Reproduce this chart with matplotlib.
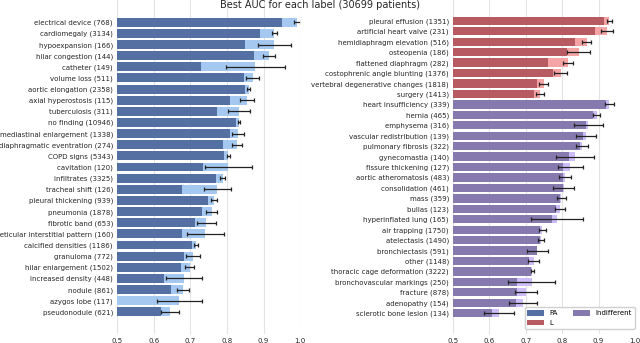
import matplotlib
matplotlib.use("Agg")
import matplotlib.pyplot as plt
from matplotlib.patches import Patch

# ---------------- data ----------------
left_labels = ["electrical device (768)", "cardiomegaly (3134)", "hypoexpansion (166)",
               "hilar congestion (144)", "catheter (149)", "volume loss (511)",
               "aortic elongation (2358)", "axial hyperostosis (115)", "tuberculosis (311)",
               "no finding (10946)", "mediastinal enlargement (1338)",
               "diaphragmatic eventration (274)", "COPD signs (5343)", "cavitation (120)",
               "infiltrates (3325)", "tracheal shift (126)", "pleural thickening (939)",
               "pneumonia (1878)", "fibrotic band (653)", "reticular interstitial pattern (160)",
               "calcified densities (1186)", "granuloma (772)", "hilar enlargement (1502)",
               "increased density (448)", "nodule (861)", "azygos lobe (117)",
               "pseudonodule (621)"]
left_view = [0.950, 0.889, 0.850, 0.873, 0.730, 0.847, 0.850, 0.807, 0.773,
             0.825, 0.809, 0.789, 0.793, 0.735, 0.770, 0.677, 0.747, 0.731, 0.714,
             0.677, 0.705, 0.684, 0.675, 0.627, 0.648, 0.500, 0.620]
left_best = [0.992, 0.929, 0.929, 0.915, 0.878, 0.870, 0.859, 0.856, 0.832,
             0.833, 0.830, 0.827, 0.804, 0.804, 0.789, 0.774, 0.765, 0.758, 0.744,
             0.741, 0.715, 0.707, 0.698, 0.683, 0.680, 0.670, 0.645]
left_err = [0.010, 0.007, 0.045, 0.017, 0.080, 0.017, 0.005, 0.019, 0.030,
            0.003, 0.017, 0.014, 0.005, 0.065, 0.007, 0.036, 0.009, 0.014, 0.027,
            0.050, 0.006, 0.020, 0.012, 0.049, 0.016, 0.062, 0.025]

right_labels = ["pleural effusion (1351)", "artificial heart valve (231)",
                "hemidiaphragm elevation (516)", "osteopenia (186)",
                "flattened diaphragm (282)", "costophrenic angle blunting (1376)",
                "vertebral degenerative changes (1818)", "surgery (1413)",
                "heart insufficiency (339)", "hernia (465)", "emphysema (316)",
                "vascular redistribution (139)", "pulmonary fibrosis (322)",
                "gynecomastia (140)", "fissure thickening (127)",
                "aortic atheromatosis (483)", "consolidation (461)", "mass (359)",
                "bullas (123)", "hyperinflated lung (165)", "air trapping (1750)",
                "atelectasis (1490)", "bronchiectasis (591)", "other (1148)",
                "thoracic cage deformation (3222)", "bronchovascular markings (250)",
                "fracture (878)", "adenopathy (154)", "sclerotic bone lesion (134)"]
right_group = ["L"] * 8 + ["Indifferent"] * 21
right_view = [0.915, 0.890, 0.835, 0.813, 0.760, 0.774, 0.732, 0.723,
              0.920, 0.884, 0.865, 0.856, 0.849, 0.818, 0.803, 0.801, 0.801, 0.794,
              0.783, 0.771, 0.740, 0.738, 0.730, 0.708, 0.715, 0.677, 0.675, 0.674, 0.607]
right_best = [0.930, 0.924, 0.867, 0.845, 0.817, 0.796, 0.749, 0.738,
              0.930, 0.895, 0.872, 0.865, 0.855, 0.835, 0.822, 0.808, 0.804, 0.798,
              0.794, 0.785, 0.745, 0.742, 0.732, 0.722, 0.718, 0.716, 0.700, 0.692, 0.627]
right_err = [0.008, 0.016, 0.012, 0.031, 0.014, 0.018, 0.012, 0.011,
             0.013, 0.009, 0.040, 0.027, 0.016, 0.053, 0.034, 0.017, 0.029, 0.013,
             0.014, 0.072, 0.010, 0.009, 0.030, 0.015, 0.005, 0.065, 0.030, 0.039, 0.041]

x_ticks = [0.5, 0.6, 0.7, 0.8, 0.9, 1.0]
title = "Best AUC for each label (30699 patients)"

# ---------------- style ----------------
dark = {"PA": "#5470a2", "L": "#b85a61", "Indifferent": "#8579ad"}
light = {"PA": "#a4c8f0", "L": "#f4a4a4", "Indifferent": "#cdbcf8"}
txt = "#262626"

fig = plt.figure(figsize=(6.4, 3.43), dpi=100)
ax1 = fig.add_axes([0.183, 0.026, 0.286, 0.974])
ax2 = fig.add_axes([0.708, 0.026, 0.284, 0.974])


def draw(ax, labels, view, best, err, groups):
    y = list(range(len(labels)))
    ax.set_axisbelow(True)
    ax.barh(y, best, height=0.8, color=[light[g] for g in groups], zorder=2)
    ax.barh(y, view, height=0.8, color=[dark[g] for g in groups], zorder=3)
    ax.errorbar(best, y, xerr=err, fmt="none", ecolor="#222222", elinewidth=0.9,
                capsize=1.6, capthick=0.9, zorder=4)
    ax.set_xlim(0.5, 1.0)
    ax.set_ylim(len(labels) + 1, -2)
    ax.set_yticks(y)
    ax.set_yticklabels(labels, fontsize=5, color=txt)
    ax.set_xticks(x_ticks)
    ax.set_xticklabels([f"{t:.1f}" for t in x_ticks], fontsize=5, color=txt)
    ax.tick_params(length=0, pad=3)
    ax.grid(axis="x", color="#e3e3e3", lw=0.8, zorder=0)
    for s in ax.spines.values():
        s.set_visible(False)


draw(ax1, left_labels, left_view, left_best, left_err, ["PA"] * len(left_labels))
draw(ax2, right_labels, right_view, right_best, right_err, right_group)

handles = [Patch(facecolor=dark["PA"]), Patch(facecolor=dark["L"]),
           Patch(facecolor=dark["Indifferent"])]
ax2.legend(handles, ["PA", "L", "Indifferent"], ncol=2, loc="lower right",
           bbox_to_anchor=(1.01, 0.01), fontsize=5, frameon=True,
           edgecolor="#d0d0d0", framealpha=1, borderaxespad=0.3,
           handlelength=2.4, handleheight=0.9, columnspacing=2.2)

fig.text(0.5, 1.0, title, ha="center", va="top", fontsize=7, color=txt)

fig.savefig("out.png", dpi=100)
